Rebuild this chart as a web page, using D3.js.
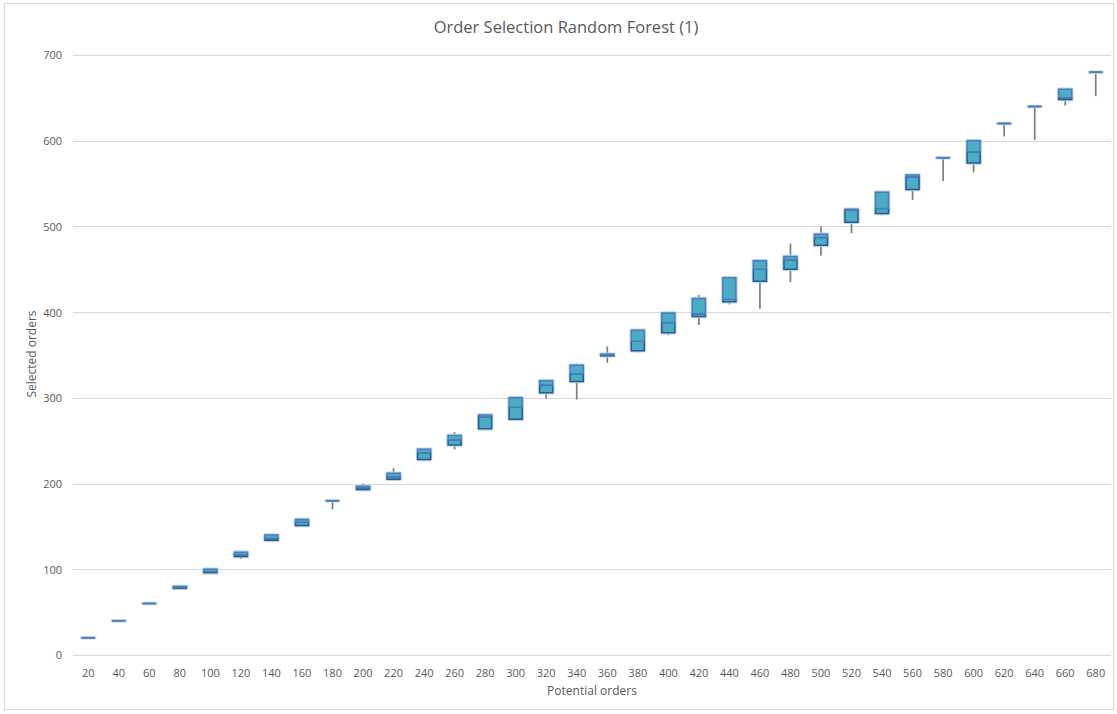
<!DOCTYPE html>
<html>
<head>
<meta charset="utf-8">
<script src="https://cdn.jsdelivr.net/npm/d3@7"></script>
<style>
  html, body { margin: 0; padding: 0; background: #fff; }
  svg { display: block; }
  text { font-family: "Open Sans", "Liberation Sans", sans-serif; fill: #595959; }
</style>
</head>
<body>
<svg id="chart" width="1117" height="714"></svg>
<script>
// Potential orders (x categories)
const categories = [20, 40, 60, 80, 100, 120, 140, 160, 180, 200, 220, 240, 260, 280, 300, 320, 340,
  360, 380, 400, 420, 440, 460, 480, 500, 520, 540, 560, 580, 600, 620, 640, 660, 680];

// Selected orders: five-number summary per category
const minVals = [20, 40, 60, 76, 95, 112, 133, 150, 170, 191, 205, 226, 240, 262, 273, 299, 298,
  341, 353, 373, 385, 409, 404, 435, 466, 492, 513, 531, 553, 563, 605, 601, 641, 652];
const q1Vals = [20, 40, 60, 78, 96, 115, 134, 151, 180, 193, 205, 228, 245, 264, 275, 306, 319,
  349, 355, 376, 395, 412, 436, 450, 478, 505, 515, 543, 580, 574, 620, 640, 648, 680];
const medianVals = [20, 40, 60, 79, 97, 117, 136, 155, 180, 195, 208, 236, 251, 278, 289, 315, 328,
  350, 366, 388, 398, 415, 450, 461, 487, 519, 521, 558, 580, 587, 620, 640, 650, 680];
const q3Vals = [20, 40, 60, 80, 100, 120, 140, 158, 180, 197, 212, 240, 256, 280, 300, 320, 338,
  351, 379, 399, 416, 440, 460, 465, 491, 520, 540, 560, 580, 600, 620, 640, 660, 680];
const maxVals = [20, 40, 60, 80, 100, 120, 140, 160, 180, 200, 218, 240, 260, 280, 300, 320, 340,
  360, 380, 400, 420, 440, 460, 480, 500, 520, 540, 560, 580, 600, 620, 640, 660, 680];

const yTicks = [0, 100, 200, 300, 400, 500, 600, 700];

const rows = categories.map((c, i) => ({
  cat: c, min: minVals[i], q1: q1Vals[i], med: medianVals[i], q3: q3Vals[i], max: maxVals[i]
}));

const svg = d3.select("#chart");
const plot = { left: 73, right: 1111, top: 55, bottom: 655 };

// chart area border
svg.append("rect")
  .attr("x", 4.5).attr("y", 3.5).attr("width", 1109).attr("height", 706)
  .attr("fill", "none").attr("stroke", "#d9d9d9").attr("stroke-width", 1);

const x = d3.scaleBand().domain(categories).range([plot.left, plot.right]).padding(0);
const y = d3.scaleLinear().domain([0, 700]).range([plot.bottom, plot.top]);
const cx = c => x(c) + x.bandwidth() / 2;

// gridlines
svg.append("g").selectAll("line").data(yTicks).join("line")
  .attr("x1", plot.left).attr("x2", plot.right)
  .attr("y1", d => Math.round(y(d)) + 0.5).attr("y2", d => Math.round(y(d)) + 0.5)
  .attr("stroke", "#d9d9d9").attr("stroke-width", 1);

// y axis labels
const yAxis = d3.axisLeft(y).tickValues(yTicks).tickSize(0).tickPadding(0);
const gy = svg.append("g").attr("transform", `translate(62,0)`).call(yAxis);
gy.select(".domain").remove();
gy.selectAll("text").style("font-size", "11px").attr("fill", "#595959").attr("dy", "0.35em");

// x axis labels
const xAxis = d3.axisBottom(x).tickSize(0).tickPadding(0);
const gx = svg.append("g").attr("transform", `translate(0,${plot.bottom + 14})`).call(xAxis);
gx.select(".domain").remove();
gx.selectAll("text").style("font-size", "11px").attr("fill", "#595959").attr("dy", "0.71em");

// whiskers
svg.append("g").selectAll("line").data(rows).join("line")
  .attr("x1", d => cx(d.cat)).attr("x2", d => cx(d.cat))
  .attr("y1", d => y(d.max)).attr("y2", d => y(d.min))
  .attr("stroke", "#7f7f7f").attr("stroke-width", 1.75);

const boxW = 13;
// rectangle as a closed path so flat (zero-height) boxes still show as a bar
const boxPath = (c, top, bottom) => {
  const x0 = cx(c) - boxW / 2, x1 = cx(c) + boxW / 2;
  return `M${x0},${y(top)}H${x1}V${y(bottom)}H${x0}Z`;
};

const boxes = svg.append("g").selectAll("g").data(rows).join("g");

// soft halo around each box
boxes.append("path")
  .attr("d", d => boxPath(d.cat, d.q3, d.q1))
  .attr("fill", "none").attr("stroke", "#bcd3ea").attr("stroke-width", 3.5)
  .attr("stroke-linejoin", "round");

// lower segment (Q1 to median)
boxes.append("path")
  .attr("d", d => boxPath(d.cat, d.med, d.q1))
  .attr("fill", "#4bacc6").attr("stroke", "#2a5b8c").attr("stroke-width", 1.5);

// upper segment (median to Q3)
boxes.append("path")
  .attr("d", d => boxPath(d.cat, d.q3, d.med))
  .attr("fill", "#4bacc6").attr("stroke", "#4a7ebb").attr("stroke-width", 1.5);

// title
svg.append("text").attr("x", 566).attr("y", 33).attr("text-anchor", "middle")
  .style("font-size", "16.5px").attr("fill", "#595959").text("Order Selection Random Forest (1)");

// axis titles
svg.append("text").attr("x", 592).attr("y", 695).attr("text-anchor", "middle")
  .style("font-size", "12px").text("Potential orders");
svg.append("text").attr("transform", "translate(36,354) rotate(-90)").attr("text-anchor", "middle")
  .style("font-size", "12px").text("Selected orders");
</script>
</body>
</html>
